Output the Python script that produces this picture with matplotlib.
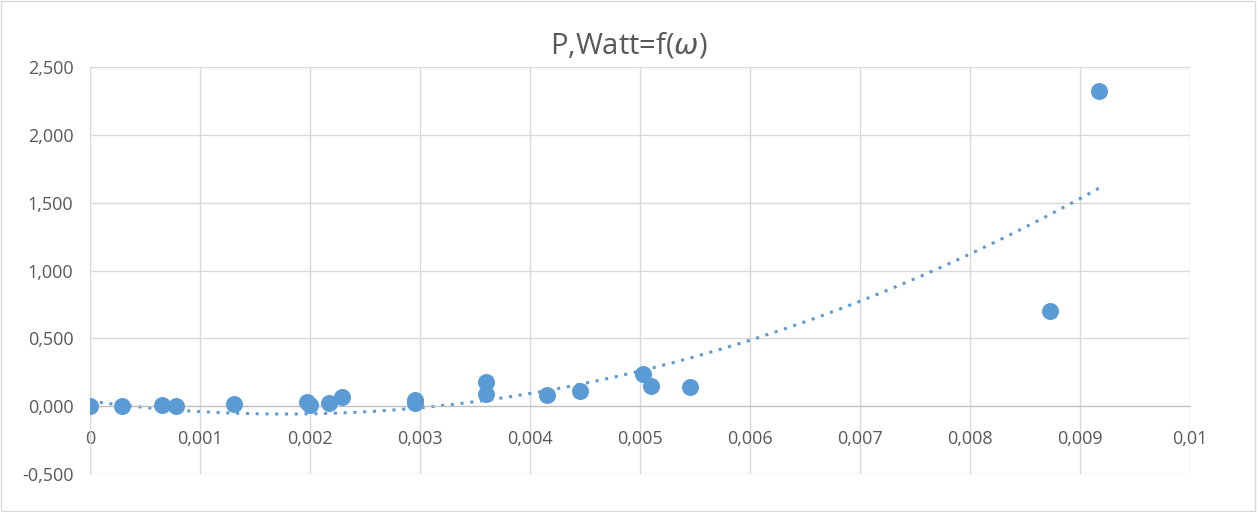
import numpy as np
import matplotlib
matplotlib.use("Agg")
from matplotlib import pyplot as plt
from matplotlib.ticker import FuncFormatter

# omega values and power (W)
omega = [0, 0.00029, 0.00065, 0.00078, 0.00131, 0.00197, 0.0020, 0.00217, 0.00229,
         0.00295, 0.00295, 0.0036, 0.0036, 0.00415, 0.00445, 0.00503, 0.0051,
         0.00545, 0.00873, 0.00917]
power = [0, 0, 0.005, 0, 0.015, 0.03, 0.01, 0.02, 0.07,
         0.045, 0.025, 0.18, 0.09, 0.08, 0.11, 0.235, 0.145,
         0.14, 0.70, 2.32]
# 2nd order trendline as drawn in the picture (a*x^2 + b*x + c)
trend_coef = [30370, -107.4, 0.037]

blue = "#5b9bd5"
grey = "#595959"
plt.rcParams['font.family'] = ['Open Sans', 'DejaVu Sans']

fig = plt.figure(figsize=(12.58, 5.12), dpi=100)
ax = fig.add_axes([90/1258, 1-474/512, 1100/1258, 407/512])

xt = np.linspace(0, max(omega), 200)
ax.plot(xt, np.polyval(trend_coef, xt), ls=(0, (1, 2.2)), color=blue, lw=2.2, zorder=2)
ax.scatter(omega, power, s=150, color=blue, zorder=3, linewidths=0)

ax.set_xlim(0, 0.01)
ax.set_ylim(-0.5, 2.5)
ax.set_xticks(np.arange(0, 0.0101, 0.001))
ax.set_yticks(np.arange(-0.5, 2.51, 0.5))
ax.xaxis.set_major_formatter(FuncFormatter(lambda v, p: "0" if abs(v) < 1e-9 else ("%.3f" % v).rstrip("0").replace(".", ",") if p != 10 else "0,01"))
ax.yaxis.set_major_formatter(FuncFormatter(lambda v, p: ("%.3f" % v).replace(".", ",")))
ax.grid(True, color="#d9d9d9", lw=1)
ax.set_axisbelow(True)
for s in ["top", "right"]:
    ax.spines[s].set_visible(False)
ax.spines["bottom"].set_position(("data", 0))
ax.spines["bottom"].set_color("#bfbfbf")
ax.spines["left"].set_color("#d9d9d9")
ax.tick_params(length=0, labelsize=13, colors=grey, pad=17)
ax.tick_params(axis="y", pad=12)

fig.text(0.5, 1-45/512, r"P,Watt=f($\omega$)", ha="center", va="center", fontsize=21, color=grey)
fig.patches.append(plt.Rectangle((0.001, 0.002), 0.997, 0.996, transform=fig.transFigure,
                                 fill=False, edgecolor="#d9d9d9", lw=1))
fig.savefig("out.png", dpi=100)
